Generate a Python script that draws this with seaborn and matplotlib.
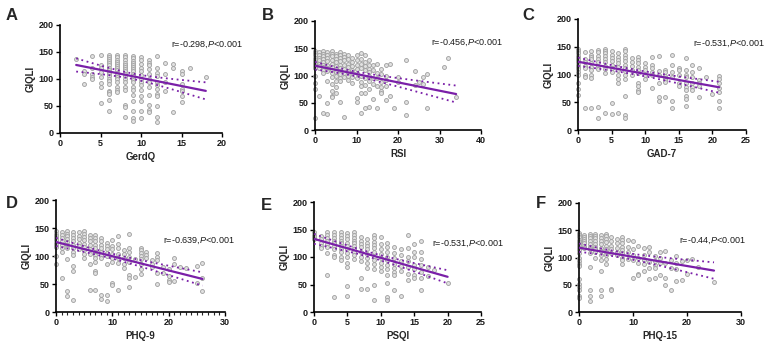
import numpy as np
import pandas as pd
import seaborn as sns
import matplotlib.pyplot as plt

# values (one list of GIQLI values per x column)
gerdq_x = [2, 3, 4, 5, 6, 7, 8, 9, 10, 11, 12, 13, 14, 15, 16, 18]
gerdq_y = [
    [137],
    [115, 110, 90],
    [142, 120, 110, 104, 100],
    [144, 125, 120, 113, 104, 92, 86, 56],
    [145, 141, 137, 133, 129, 125, 121, 117, 113, 109, 105, 100, 96, 90, 78, 75, 72, 62, 40],
    [145, 140, 136, 132, 128, 124, 120, 116, 112, 108, 104, 100, 95, 85, 80, 75],
    [145, 140, 135, 130, 126, 122, 118, 114, 110, 106, 100, 95, 85, 80, 52, 48, 30],
    [143, 138, 134, 130, 126, 122, 118, 114, 110, 106, 102, 98, 94, 85, 80, 70, 60, 40, 28, 22],
    [140, 135, 128, 120, 115, 108, 100, 95, 88, 80, 68, 60, 40, 28],
    [135, 130, 125, 118, 110, 100, 95, 85, 70, 52, 42, 38],
    [143, 120, 112, 105, 95, 88, 82, 72, 68, 50, 30, 20],
    [130, 110, 95, 77],
    [128, 120, 38],
    [115, 110, 90, 82, 78, 68, 58],
    [120],
    [104],
]

rsi_x = [0, 1, 2, 3, 4, 5, 6, 7, 8, 9, 10, 11, 12, 13, 14, 15, 16, 17, 18, 19,
         20, 22, 24, 25, 26, 27, 31, 32, 34]
rsi_y = [
    [145, 141, 137, 133, 129, 125, 121, 117, 113, 100, 86, 75, 22],
    [143, 138, 133, 128, 122, 117, 113, 62],
    [145, 140, 135, 130, 125, 120, 115, 110, 105, 32],
    [143, 138, 132, 126, 120, 114, 108, 90, 50, 30],
    [145, 140, 135, 128, 122, 116, 110, 104, 98, 85, 72, 62, 60],
    [140, 135, 130, 124, 118, 112, 106, 100, 90, 78, 68],
    [143, 138, 132, 126, 120, 114, 108, 102, 96, 90, 52],
    [140, 134, 128, 120, 112, 105, 98, 23],
    [138, 130, 122, 115, 108, 100, 92],
    [132, 125, 118, 110, 104, 98, 86],
    [138, 128, 120, 112, 104, 96, 58, 52],
    [142, 130, 122, 114, 100, 88, 80, 68, 31],
    [138, 125, 118, 110, 95, 82, 68, 40],
    [128, 120, 112, 106, 100, 90, 75, 42],
    [120, 110, 95, 85, 56],
    [122, 105, 95, 80, 40],
    [112, 102, 88, 78, 72, 68],
    [120, 100, 92, 80, 55],
    [121, 62],
    [40],
    [97, 88],
    [128, 52, 28],
    [108, 82],
    [88],
    [98, 85],
    [102, 40],
    [115],
    [132],
    [60],
]

gad_x = list(range(0, 22))
gad_y = [
    [146, 142, 138, 134, 130, 126, 122, 118, 114, 110, 105, 100, 84, 74, 63],
    [140, 128, 122, 116, 112, 100, 96, 40],
    [142, 136, 132, 128, 120, 114, 108, 99, 94, 40],
    [145, 140, 134, 128, 122, 116, 110, 41, 21],
    [146, 142, 138, 134, 128, 122, 116, 110, 102, 30],
    [142, 136, 130, 124, 118, 112, 105, 48, 29],
    [138, 132, 126, 120, 114, 108, 99, 92, 84, 30],
    [146, 142, 136, 130, 124, 118, 112, 106, 100, 92, 61, 27, 22],
    [130, 122, 115, 108, 100],
    [132, 126, 120, 114, 108, 102, 84, 80, 72, 68],
    [120, 114, 108, 100, 92],
    [132, 118, 112, 105, 100, 75],
    [134, 106, 100, 84, 60, 52],
    [108, 104, 98, 94, 90, 86, 60],
    [136, 118, 105, 95, 52, 40],
    [112, 108, 100, 85, 80],
    [129, 108, 100, 96, 85, 78, 72, 62, 55, 44],
    [118, 105, 96, 84, 78, 72],
    [112, 90, 84, 80, 60],
    [95],
    [64],
    [98, 92, 85, 75, 68, 52, 40],
]

phq9_x = [0, 1, 2, 3, 4, 5, 6, 7, 8, 9, 10, 11, 12, 13, 14, 15, 16, 17, 18, 19,
          20, 21, 22, 23, 25, 26]
phq9_y = [
    [145, 140, 136, 132, 128, 124, 120, 116, 100, 85],
    [142, 138, 132, 126, 120, 114, 108, 60],
    [145, 140, 135, 130, 125, 120, 114, 95, 38, 29],
    [143, 138, 132, 126, 120, 114, 108, 102, 82, 73, 21],
    [143, 136, 130, 124, 118, 112],
    [145, 140, 134, 128, 122, 116, 110, 104, 96],
    [138, 132, 126, 120, 112, 104, 86, 40],
    [138, 132, 126, 120, 114, 108, 102, 96, 90, 73, 70, 40],
    [132, 126, 120, 114, 108, 102, 96, 30, 24],
    [124, 118, 112, 106, 100, 85, 30, 20],
    [128, 118, 112, 104, 96, 90, 51, 48],
    [136, 122, 114, 104, 96, 88, 40],
    [110, 104, 96, 86, 78],
    [140, 115, 108, 98, 90, 66, 60, 44],
    [95, 62],
    [115, 110, 105, 100, 95, 85, 76, 68],
    [108, 102, 96],
    [92, 86, 80],
    [106, 98, 92, 70, 50],
    [80, 70],
    [76, 64, 58, 54],
    [96, 86, 55],
    [80],
    [79],
    [82, 52],
    [87, 60, 38],
]

psqi_x = [0, 1, 2, 3, 4, 5, 6, 7, 8, 9, 10, 11, 12, 13, 14, 15, 16, 17, 18, 20]
psqi_y = [
    [145, 140, 136, 132],
    [138, 132, 126, 120, 116],
    [145, 140, 135, 130, 124, 118, 108, 68],
    [145, 140, 135, 130, 125, 120, 114, 104, 100, 27],
    [145, 140, 135, 130, 125, 120, 115, 110, 100, 95],
    [144, 138, 132, 126, 120, 114, 108, 100, 90, 82, 48, 30],
    [145, 140, 135, 130, 125, 120, 115, 110, 104, 96],
    [136, 130, 124, 118, 110, 100, 92, 62, 41],
    [132, 126, 120, 114, 106, 98, 90, 80, 42],
    [140, 134, 128, 122, 116, 110, 100, 94, 88, 78, 50, 21],
    [136, 124, 114, 106, 98, 90, 82, 74],
    [126, 118, 110, 100, 94, 86, 78, 68, 52, 27, 22],
    [118, 108, 98, 88, 80, 72, 68, 40],
    [114, 104, 92, 84, 75, 30],
    [140, 116, 100, 92, 82, 70, 58],
    [124, 110, 100, 86, 78, 68, 62],
    [130, 110, 96, 85, 72, 62, 40],
    [82, 66],
    [76],
    [52],
]

phq15_x = [0, 1, 2, 3, 4, 5, 6, 7, 8, 9, 10, 11, 12, 13, 14, 15, 16, 17, 18, 19,
           20, 21, 22, 25]
phq15_y = [
    [145, 141, 137, 133, 129, 125, 121, 117, 113, 108, 100, 94, 88, 84, 60, 52, 45, 40, 30, 25],
    [142, 138, 134, 130, 126, 122, 118],
    [144, 140, 135, 130, 125, 120, 115, 108, 83, 40, 30, 21],
    [144, 140, 135, 130, 125, 120, 115, 110, 100],
    [142, 136, 130, 124, 118, 112, 105, 95, 75, 40, 30],
    [144, 140, 134, 128, 122, 116, 110, 104, 98, 88],
    [138, 130, 122, 115, 108, 42, 40],
    [134, 126, 118, 110, 104],
    [138, 132, 126, 120, 114, 108, 100, 95, 88],
    [132, 120, 110, 98],
    [130, 115, 105, 96, 62],
    [122, 100, 90, 70, 68],
    [118, 105, 95, 88, 75],
    [120, 110, 92, 80, 60],
    [102, 94, 86, 80, 62],
    [110, 100, 90, 68],
    [112, 90, 62, 50],
    [95, 80, 40],
    [102, 90, 78, 56],
    [94, 58],
    [96, 70],
    [98],
    [83],
    [55],
]

# fitted regression line: GIQLI at lowest / highest x
fit_start = [126, 118, 123, 125, 133, 118]
fit_end = [78, 66, 77, 59, 64, 76]

letters = ["A", "B", "C", "D", "E", "F"]
xlabels = ["GerdQ", "RSI", "GAD-7", "PHQ-9", "PSQI", "PHQ-15"]
r_values = ["-0.298", "-0.456", "-0.531", "-0.639", "-0.531", "-0.44"]
x_max = [20, 40, 25, 30, 25, 30]
x_step = [5, 10, 5, 10, 5, 10]
data_x = [gerdq_x, rsi_x, gad_x, phq9_x, psqi_x, phq15_x]
data_y = [gerdq_y, rsi_y, gad_y, phq9_y, psqi_y, phq15_y]

sns.set_theme(style="ticks")
plt.rcParams['font.family'] = ['Liberation Sans', 'DejaVu Sans']
plt.rcParams['mathtext.fontset'] = 'custom'
plt.rcParams['mathtext.rm'] = 'Liberation Sans'
plt.rcParams['mathtext.it'] = 'Liberation Sans:italic'

W, H = 767, 345
fig = plt.figure(figsize=(W / 100, H / 100), dpi=100)

# axes boxes in pixels: left, top(=200), right(=x_max), bottom(=0)
boxes = [(60, 25, 222, 133), (315, 21, 481, 130), (578, 19, 746, 130),
         (56, 200, 225, 312), (314, 202, 481, 312), (579, 203, 741, 312)]
letter_pos = [(12, 16), (268, 15), (528, 15), (12, 203), (266, 205), (541, 203)]
text_pos = [(0.685, 0.82), (0.697, 0.80), (0.685, 0.78),
            (0.633, 0.64), (0.707, 0.62), (0.62, 0.65)]

purple = "#7a1fa8"

for i in range(6):
    l, t, r, b = boxes[i]
    ax = fig.add_axes([l / W, (H - b) / H, (r - l) / W, (b - t) / H])
    xs = [xv for xv, col in zip(data_x[i], data_y[i]) for _ in col]
    ys = [v for col in data_y[i] for v in col]
    df = pd.DataFrame({"x": xs, "y": ys})

    sns.scatterplot(data=df, x="x", y="y", ax=ax, s=8, color="#e0e0e0",
                    edgecolor="#9e9e9e", linewidth=0.6, clip_on=False, zorder=2)

    # regression line and its 95% band (band width from the plotted points)
    xa = df["x"].to_numpy(float)
    ya = df["y"].to_numpy(float)
    n = len(xa)
    grid = np.linspace(xa.min(), xa.max(), 100)
    fit = np.interp(grid, [xa.min(), xa.max()], [fit_start[i], fit_end[i]])
    slope, icpt = np.polyfit(xa, ya, 1)
    s = np.sqrt(np.sum((ya - (icpt + slope * xa)) ** 2) / (n - 2))
    sxx = np.sum((xa - xa.mean()) ** 2)
    se = s * np.sqrt(1 / n + (grid - xa.mean()) ** 2 / sxx)
    ax.plot(grid, fit, color=purple, lw=1.6, zorder=4)
    ax.plot(grid, fit + 1.97 * se, color=purple, lw=1.3, ls=(0, (1, 2)), zorder=3)
    ax.plot(grid, fit - 1.97 * se, color=purple, lw=1.3, ls=(0, (1, 2)), zorder=3)

    ax.set_xlim(0, x_max[i])
    ax.set_ylim(0, 200)
    ax.set_xticks(np.arange(0, x_max[i] + 1, x_step[i]))
    ax.set_yticks([0, 50, 100, 150, 200])
    if i == 3:
        ax.set_xticks(np.arange(0, x_max[i] + 1, 1), minor=True)
        ax.tick_params(axis="x", which="minor", length=2, width=0.8, direction="out")
    ax.tick_params(axis="both", which="major", length=3, width=1, direction="out",
                   labelsize=6.5, pad=1.5, color="black", labelcolor="#1a1a1a")
    for lbl in ax.get_xticklabels() + ax.get_yticklabels():
        lbl.set_fontweight("bold")
    for sp in ["left", "bottom"]:
        ax.spines[sp].set_linewidth(1.2)
        ax.spines[sp].set_color("black")
    sns.despine(ax=ax)
    ax.set_xlabel(xlabels[i], fontsize=7, fontweight="bold", labelpad=3)
    ax.set_ylabel("GIQLI", fontsize=7, fontweight="bold", labelpad=2)
    ax.text(text_pos[i][0], text_pos[i][1], f"r={r_values[i]},$\\mathit{{P}}$<0.001",
            transform=ax.transAxes, fontsize=6.5, va="center", ha="left", color="#1a1a1a")
    fig.text(letter_pos[i][0] / W, 1 - letter_pos[i][1] / H, letters[i],
             fontsize=12, fontweight="bold", ha="center", va="center")

fig.savefig("out.png", dpi=100)
